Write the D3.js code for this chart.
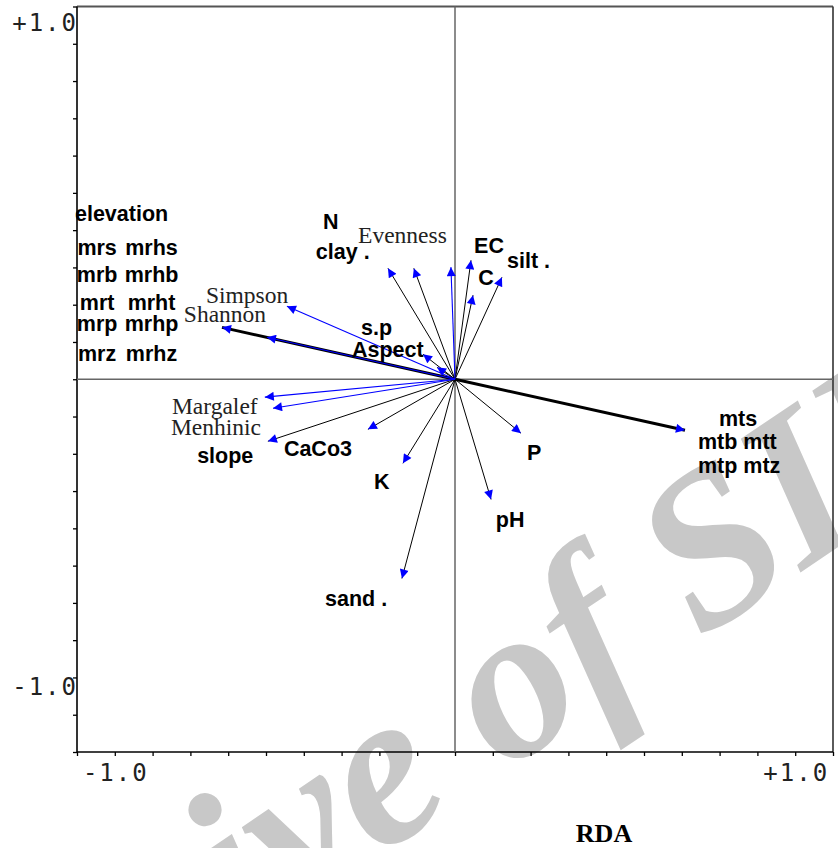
<!DOCTYPE html>
<html><head><meta charset="utf-8">
<script src="https://cdnjs.cloudflare.com/ajax/libs/d3/7.8.5/d3.min.js"></script>
<style>
html,body{margin:0;padding:0;background:#fff;}
svg{display:block;}
</style></head>
<body><svg id="chart" width="838" height="848"></svg>
<script>
// ---------- DATA ----------
// environmental variables (black arrows)
const envNames = ["N","clay .","EC","C","silt .","s.p","Aspect","slope","CaCo3","K","P","pH","sand ."];
const envX = [-0.121,-0.197,0.047,0.053,0.138,-0.094,-0.053,-0.550,-0.256,-0.153,0.194,0.106,-0.156];
const envY = [0.372,0.372,0.399,0.282,0.342,0.084,0.040,-0.208,-0.168,-0.282,-0.181,-0.403,-0.668];
// diversity indices (blue arrows)
const divNames = ["Shannon","Simpson","Margalef","Menhinic","Evenness"];
const divX = [-0.553,-0.494,-0.559,-0.535,-0.012];
const divY = [0.141,0.245,-0.060,-0.097,0.376];
// sample groups (thick arrows)
const groupNames = ["mr","mt"];
const groupX = [-0.685,0.676];
const groupY = [0.174,-0.171];
// sample labels
const mrCol1 = ["mrs","mrb","mrt","mrp","mrz"];
const mrCol2 = ["mrhs","mrhb","mrht","mrhp","mrhz"];
const mtRows = ["mts","mtb mtt","mtp mtz"];
// axis tick labels
const xTickLabels = ["-1.0","+1.0"];
const yTickLabels = ["+1.0","-1.0"];
const axisTitle = "RDA";
const extraLabel = "elevation";
const watermark = "Archive of SID";

// ---------- LAYOUT (label anchors in data units) ----------
const envLabelPos = {
  "N":[-0.388,0.504],"clay .":[-0.409,0.403],"EC":[0.056,0.423],"C":[0.068,0.316],
  "silt .":[0.153,0.373],"s.p":[-0.276,0.148],"Aspect":[-0.303,0.074],"slope":[-0.758,-0.281],
  "CaCo3":[-0.503,-0.257],"K":[-0.238,-0.368],"P":[0.212,-0.271],"pH":[0.120,-0.495],"sand .":[-0.382,-0.760]
};
const divLabelPos = {
  "Shannon":[-0.797,0.192],"Simpson":[-0.732,0.256],"Margalef":[-0.832,-0.117],
  "Menhinic":[-0.835,-0.188],"Evenness":[-0.285,0.457]
};

// ---------- CHART ----------
const svg = d3.select("#chart");
const x = d3.scaleLinear().domain([-10/9, 10/9]).range([77, 833]);
const y = d3.scaleLinear().domain([-1.25, 1.25]).range([752, 6.5]);

// watermark
svg.append("text")
  .attr("transform","translate(-130,1200) rotate(-34)")
  .attr("font-family","Liberation Serif, serif")
  .attr("font-style","italic").attr("font-weight","bold")
  .attr("font-size",220).attr("fill","#c8c8c8")
  .text(watermark);

const blue = "#0000ff";
const defs = svg.append("defs");
defs.append("marker").attr("id","ah").attr("markerUnits","userSpaceOnUse")
  .attr("viewBox","0 0 10 10").attr("refX",10).attr("refY",5)
  .attr("markerWidth",11).attr("markerHeight",9).attr("orient","auto")
  .append("path").attr("d","M0,0 L10,5 L0,10 Z").attr("fill",blue);

// axes ticks
const xTicks = d3.range(-10,11).map(k=>k/9);
const yTicks = d3.range(-10,11).map(k=>k/8);
svg.append("g").attr("transform","translate(0,752)")
  .call(d3.axisBottom(x).tickValues(xTicks).tickFormat("").tickSizeInner(4).tickSizeOuter(0))
  .call(g=>g.select(".domain").remove())
  .call(g=>g.selectAll("line").attr("stroke","#000").attr("stroke-width",1.3));
svg.append("g").attr("transform","translate(77,0)")
  .call(d3.axisLeft(y).tickValues(yTicks).tickFormat("").tickSizeInner(4).tickSizeOuter(0))
  .call(g=>g.select(".domain").remove())
  .call(g=>g.selectAll("line").attr("stroke","#000").attr("stroke-width",1.3));

// frame
svg.append("line").attr("x1",x(-10/9)).attr("x2",x(10/9)).attr("y1",y(1.25)).attr("y2",y(1.25)).attr("stroke","#555").attr("stroke-width",1.8);
svg.append("line").attr("x1",x(10/9)).attr("x2",x(10/9)).attr("y1",y(1.25)).attr("y2",y(-1.25)).attr("stroke","#333").attr("stroke-width",1.6);
svg.append("line").attr("x1",x(-10/9)).attr("x2",x(-10/9)).attr("y1",y(1.25)).attr("y2",y(-1.25)).attr("stroke","#000").attr("stroke-width",1.6);
svg.append("line").attr("x1",x(-10/9)).attr("x2",x(10/9)).attr("y1",y(-1.25)).attr("y2",y(-1.25)).attr("stroke","#000").attr("stroke-width",1.6);
// zero lines
svg.append("line").attr("x1",x(0)).attr("x2",x(0)).attr("y1",y(1.25)).attr("y2",y(-1.25)).attr("stroke","#666").attr("stroke-width",1.5);
svg.append("line").attr("x1",x(-10/9)).attr("x2",x(10/9)).attr("y1",y(0)).attr("y2",y(0)).attr("stroke","#666").attr("stroke-width",1.5);

// group arrows (thick)
svg.append("g").selectAll("line").data(groupNames).join("line")
  .attr("x1",x(0)).attr("y1",y(0))
  .attr("x2",(d,i)=>x(groupX[i])).attr("y2",(d,i)=>y(groupY[i]))
  .attr("stroke","#000").attr("stroke-width",3).attr("marker-end","url(#ah)");
// env arrows
svg.append("g").selectAll("line").data(envNames).join("line")
  .attr("x1",x(0)).attr("y1",y(0))
  .attr("x2",(d,i)=>x(envX[i])).attr("y2",(d,i)=>y(envY[i]))
  .attr("stroke","#000").attr("stroke-width",1).attr("marker-end","url(#ah)");
// diversity arrows
svg.append("g").selectAll("line").data(divNames).join("line")
  .attr("x1",x(0)).attr("y1",y(0))
  .attr("x2",(d,i)=>x(divX[i])).attr("y2",(d,i)=>y(divY[i]))
  .attr("stroke",blue).attr("stroke-width",1.1).attr("marker-end","url(#ah)");

// labels
const boldFont = "Liberation Sans, Arial, sans-serif";
const serifFont = "Liberation Serif, Times New Roman, serif";
svg.append("g").selectAll("text").data(envNames).join("text")
  .attr("x",d=>x(envLabelPos[d][0])).attr("y",d=>y(envLabelPos[d][1]))
  .attr("font-family",boldFont).attr("font-weight","bold").attr("font-size",21.5)
  .attr("fill","#000").text(d=>d);
svg.append("g").selectAll("text").data(divNames).join("text")
  .attr("x",d=>x(divLabelPos[d][0])).attr("y",d=>y(divLabelPos[d][1]))
  .attr("font-family",serifFont).attr("font-size",23.5)
  .attr("fill","#222").text(d=>d);

svg.append("text").attr("x",x(-1.117)).attr("y",y(0.530))
  .attr("font-family",boldFont).attr("font-weight","bold").attr("font-size",21.5).text(extraLabel);
const mrRowY = [0.416,0.326,0.232,0.162,0.061];
svg.append("g").selectAll("text").data(mrCol1).join("text")
  .attr("x",x(-1.052)).attr("y",(d,i)=>y(mrRowY[i])).attr("text-anchor","middle")
  .attr("font-family",boldFont).attr("font-weight","bold").attr("font-size",21.5).text(d=>d);
svg.append("g").selectAll("text").data(mrCol2).join("text")
  .attr("x",x(-0.892)).attr("y",(d,i)=>y(mrRowY[i])).attr("text-anchor","middle")
  .attr("font-family",boldFont).attr("font-weight","bold").attr("font-size",21.5).text(d=>d);
const mtRowX = [0.776,0.714,0.714];
const mtRowY = [-0.157,-0.234,-0.315];
svg.append("g").selectAll("text").data(mtRows).join("text")
  .attr("x",(d,i)=>x(mtRowX[i])).attr("y",(d,i)=>y(mtRowY[i]))
  .attr("font-family",boldFont).attr("font-weight","bold").attr("font-size",21.5).text(d=>d);

// tick labels
const monoFont = "DejaVu Sans Mono, monospace";
svg.append("g").selectAll("text").data(xTickLabels).join("text")
  .attr("x",(d,i)=>x(i===0?-1:1)+1).attr("y",781)
  .attr("text-anchor","middle").attr("font-family",monoFont).attr("font-size",24)
  .attr("letter-spacing",2).attr("fill","#222").text(d=>d);
svg.append("g").selectAll("text").data(yTickLabels).join("text")
  .attr("x",78).attr("y",(d,i)=>i===0?y(1.25)+24:y(-1)+18)
  .attr("text-anchor","end").attr("font-family",monoFont).attr("font-size",24)
  .attr("letter-spacing",2).attr("fill","#222").text(d=>d);

svg.append("text").attr("x",604).attr("y",842).attr("text-anchor","middle")
  .attr("font-family",serifFont).attr("font-weight","bold").attr("font-size",26).text(axisTitle);
</script></body></html>
